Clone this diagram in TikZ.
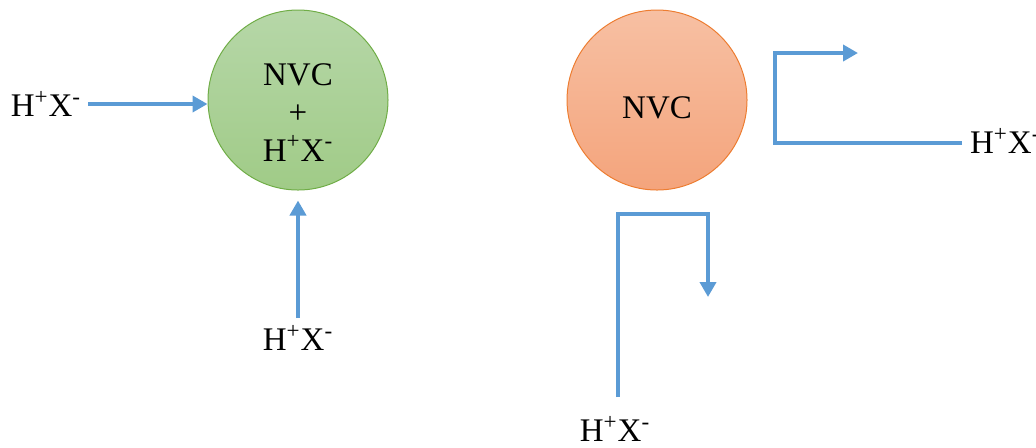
\documentclass[tikz,border=0pt]{standalone}
\usepackage{fontspec}
\setmainfont{Liberation Serif}
\usetikzlibrary{arrows.meta}
\definecolor{flowblue}{HTML}{5B9BD5}
\definecolor{greenedge}{HTML}{70AD47}
\definecolor{greentop}{HTML}{B6D7A8}
\definecolor{greenbot}{HTML}{A0CB87}
\definecolor{orangeedge}{HTML}{ED7D31}
\definecolor{orangetop}{HTML}{F7C0A3}
\definecolor{orangebot}{HTML}{F4A47C}
\newcommand{\hx}{H\textsuperscript{+}X\textsuperscript{-}}
\begin{document}
\begin{tikzpicture}[x=0.5pt, y=-0.5pt,
	font=\fontsize{16.5}{18.5}\selectfont,
	flow/.style={draw=flowblue, line width=2pt, -{Triangle[length=7.5pt, width=8pt]}},
	ball/.style={circle, minimum size=90pt, inner sep=0pt, line width=0.5pt, align=center}]
	\useasboundingbox (0,0) rectangle (1036,447);
	
	% left: solution enters the green ball
	\node[ball, draw=greenedge, top color=greentop, bottom color=greenbot] (nvcmix) at (298,100)
		{\raisebox{7.5pt}[0pt][0pt]{\begin{tabular}[t]{@{}c@{}}NVC\\[0.5pt]+\\[0.5pt]\hx\end{tabular}}};
	\node (hxleft) at (46,104) {\hx};
	\node (hxbot) at (298,338) {\hx};
	\draw[flow] (hxleft) -- (hxleft -| nvcmix.west);
	\draw[flow, shorten >=5pt] (hxbot) -- (nvcmix);
	
	% right: solution passes round the orange ball
	\node[ball, draw=orangeedge, top color=orangetop, bottom color=orangebot] (nvc) at (657,100)
		{\raisebox{-9pt}[0pt][0pt]{NVC}};
	\coordinate (startA) at (962,143);
	\coordinate (bendA) at (775,143);
	\coordinate (tipA) at (858,53);
	\coordinate (bendB) at (618,214);
	\coordinate (tipB) at (708,297);
	\node[anchor=west] (hxright) at ([xshift=0.5pt,yshift=1pt]startA) {\hx};
	\node (hxlow) at (615,429) {\hx};
	\draw[flow] (startA) -- (bendA) -- (bendA |- tipA) -- (tipA);
	\draw[flow] (bendB |- hxlow.north) ++(0,-12) -- (bendB) -- (bendB -| tipB) -- (tipB);
\end{tikzpicture}
\end{document}
